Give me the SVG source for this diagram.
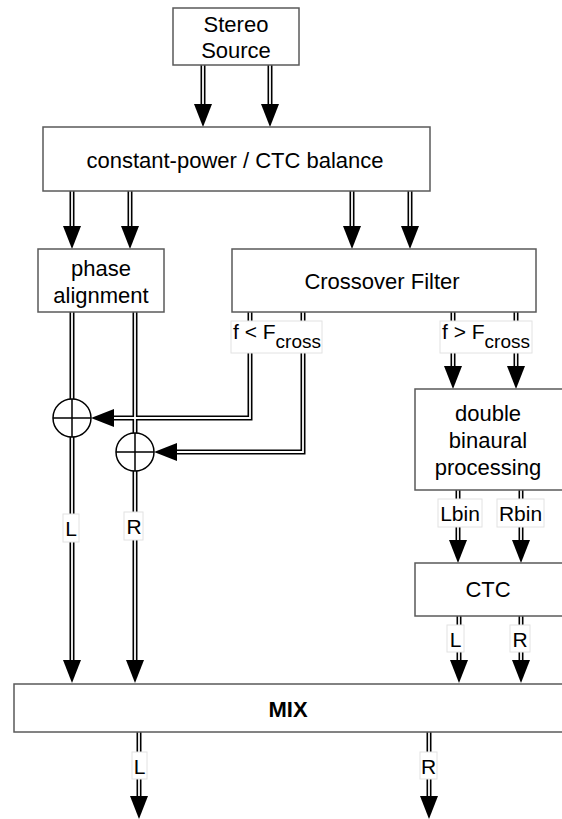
<svg xmlns="http://www.w3.org/2000/svg" width="562" height="819" viewBox="0 0 562 819">
<style>
.box{fill:#fff;stroke:#5a5a5a;stroke-width:1.5}
.t{font-family:"Liberation Sans",Arial,sans-serif;font-size:22px;fill:#000;text-anchor:middle}
.lt{font-family:"Liberation Sans",Arial,sans-serif;font-size:21px;fill:#000}
.lbl{fill:#fff;stroke:#e2e2e2;stroke-width:1}
.rail{fill:none;stroke:#000;stroke-width:5}
.gap{fill:none;stroke:#fff;stroke-width:1.8}
.sum{fill:#fff;stroke:#000;stroke-width:1.5}
</style>
<defs>
<marker id="ah" markerUnits="userSpaceOnUse" markerWidth="24" markerHeight="18" refX="0" refY="9" orient="auto" overflow="visible">
<path d="M0,0 L23,9 L0,18 Z" fill="#000"/>
</marker>
</defs>
<rect width="562" height="819" fill="#fff"/>

<g id="connectors">
<g class="rail" marker-end="url(#ah)">
<path d="M203,65 V104"/>
<path d="M270,65 V104"/>
<path d="M72,191 V226"/>
<path d="M130,191 V226"/>
<path d="M352,191 V226"/>
<path d="M410,191 V226"/>
<path d="M72,437 V660"/>
<path d="M135,471 V660"/>
<path d="M250,312 V418 H114"/>
<path d="M303,312 V452 H177"/>
<path d="M453,312 V366"/>
<path d="M516,312 V366"/>
<path d="M458,490 V540"/>
<path d="M521,490 V540"/>
<path d="M459,616 V660"/>
<path d="M521,616 V660"/>
<path d="M139,732 V796"/>
<path d="M429,732 V796"/>
</g>
<g class="rail">
<path d="M72,312 V399"/>
<path d="M135,312 V433"/>
</g>
<g class="gap">
<path d="M203,65 V104"/>
<path d="M270,65 V104"/>
<path d="M72,191 V226"/>
<path d="M130,191 V226"/>
<path d="M352,191 V226"/>
<path d="M410,191 V226"/>
<path d="M72,437 V660"/>
<path d="M135,471 V660"/>
<path d="M250,312 V418 H114"/>
<path d="M303,312 V452 H177"/>
<path d="M453,312 V366"/>
<path d="M516,312 V366"/>
<path d="M458,490 V540"/>
<path d="M521,490 V540"/>
<path d="M459,616 V660"/>
<path d="M521,616 V660"/>
<path d="M139,732 V796"/>
<path d="M429,732 V796"/>
<path d="M72,312 V399"/>
<path d="M135,312 V433"/>
</g>
<g id="lbl-low">
<rect class="lbl" x="231" y="321" width="91" height="32"/>
<text class="lt" x="233" y="339">f &lt; F<tspan font-size="19" dy="9">cross</tspan></text>
</g>
<g id="lbl-high">
<rect class="lbl" x="440" y="321" width="92" height="32"/>
<text class="lt" x="442" y="339">f &gt; F<tspan font-size="19" dy="9">cross</tspan></text>
</g>
<g id="lbl-lbin">
<rect class="lbl" x="438" y="499" width="44" height="28"/>
<text class="lt" x="460" y="521" text-anchor="middle">Lbin</text>
</g>
<g id="lbl-rbin">
<rect class="lbl" x="497" y="499" width="47" height="28"/>
<text class="lt" x="520.5" y="521" text-anchor="middle">Rbin</text>
</g>
<g id="lbl-pl">
<rect class="lbl" x="63" y="514" width="16" height="28"/>
<text class="lt" x="71" y="536" text-anchor="middle">L</text>
</g>
<g id="lbl-pr">
<rect class="lbl" x="124" y="512" width="19" height="28"/>
<text class="lt" x="134" y="534" text-anchor="middle">R</text>
</g>
<g id="lbl-cl">
<rect class="lbl" x="447" y="625" width="17" height="27"/>
<text class="lt" x="455.5" y="647" text-anchor="middle">L</text>
</g>
<g id="lbl-cr">
<rect class="lbl" x="510" y="625" width="20" height="27"/>
<text class="lt" x="520" y="647" text-anchor="middle">R</text>
</g>
<g id="lbl-ml">
<rect class="lbl" x="132" y="752" width="15" height="27"/>
<text class="lt" x="139.5" y="774" text-anchor="middle">L</text>
</g>
<g id="lbl-mr">
<rect class="lbl" x="420" y="752" width="17" height="27"/>
<text class="lt" x="428.5" y="774" text-anchor="middle">R</text>
</g>
</g>

<g id="stereo-source">
<rect class="box" x="173" y="8" width="126" height="57"/>
<text class="t" x="236" y="32">Stereo</text>
<text class="t" x="236" y="58">Source</text>
</g>
<g id="balance">
<rect class="box" x="43" y="127" width="387" height="64"/>
<text class="t" x="235" y="168">constant-power / CTC balance</text>
</g>
<g id="phase-alignment">
<rect class="box" x="38" y="249" width="126" height="63"/>
<text class="t" x="101" y="276">phase</text>
<text class="t" x="101" y="303">alignment</text>
</g>
<g id="crossover">
<rect class="box" x="232" y="249" width="304" height="63"/>
<text class="t" x="382" y="289">Crossover Filter</text>
</g>
<g id="sum-left">
<circle class="sum" cx="72" cy="418" r="19"/>
<path d="M53,418 H91 M72,399 V437" stroke="#000" stroke-width="1.5"/>
</g>
<g id="sum-right">
<circle class="sum" cx="135" cy="452" r="19"/>
<path d="M116,452 H154 M135,433 V471" stroke="#000" stroke-width="1.5"/>
</g>
<g id="double-binaural">
<rect class="box" x="415" y="389" width="160" height="101"/>
<text class="t" x="488" y="421">double</text>
<text class="t" x="488" y="448">binaural</text>
<text class="t" x="488" y="475">processing</text>
</g>
<g id="ctc">
<rect class="box" x="415" y="563" width="160" height="53"/>
<text class="t" x="488" y="597">CTC</text>
</g>
<g id="mix">
<rect class="box" x="14" y="684" width="560" height="48"/>
<text class="t" x="288" y="717" font-weight="bold">MIX</text>
</g>
</svg>
